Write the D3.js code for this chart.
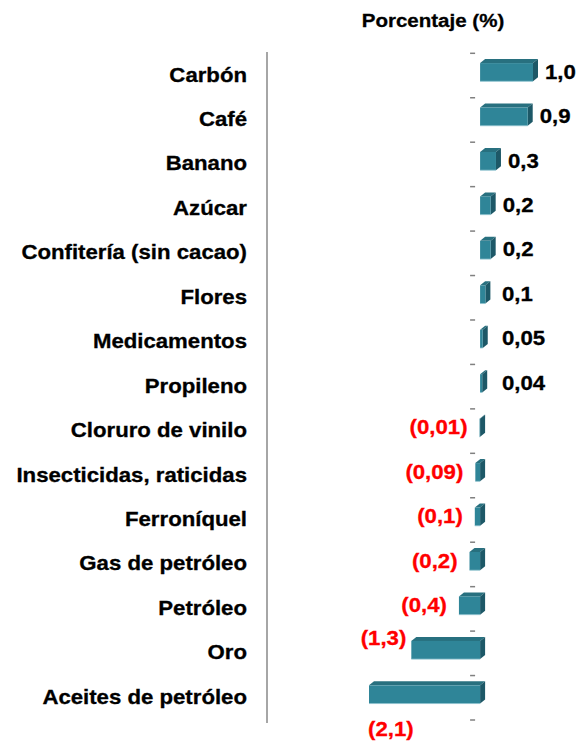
<!DOCTYPE html>
<html>
<head>
<meta charset="utf-8">
<script src="https://cdn.jsdelivr.net/npm/d3@7"></script>
<style>
  body { margin: 0; background: #fff; }
  svg text { font-family: "Liberation Sans", Arial, sans-serif; font-weight: bold; }
</style>
</head>
<body>
<svg id="vis" width="582" height="742"></svg>
<script>
// data
const CATEGORIES = ["Carbón", "Café", "Banano", "Azúcar", "Confitería (sin cacao)", "Flores",
  "Medicamentos", "Propileno ", "Cloruro de vinilo", "Insecticidas, raticidas", "Ferroníquel",
  "Gas de petróleo", "Petróleo", "Oro", "Aceites de petróleo"];
const VALUES = [1.0, 0.9, 0.3, 0.2, 0.2, 0.1, 0.05, 0.04, -0.01, -0.09, -0.1, -0.2, -0.4, -1.3, -2.1];
const VALUE_LABELS = ["1,0", "0,9", "0,3", "0,2", "0,2", "0,1", "0,05", "0,04", "(0,01)", "(0,09)",
  "(0,1)", "(0,2)", "(0,4)", "(1,3)", "(2,1)"];
const TITLE = "Porcentaje (%)";

const DEPTH = {dx: 5, dy: 4};
const COLOURS = {front: "#2f8598", top: "#28707f", side: "#1d5867"};
const STRETCH = 1.11; // text in the picture is slightly wide

var svg = d3.select("#vis");
var data = CATEGORIES.map((c, i) => ({name: c, value: VALUES[i], label: VALUE_LABELS[i]}));

var x = d3.scaleLinear().domain([-2.1, 1.0]).range([369, 533]);
var y = d3.scaleBand().domain(CATEGORIES).range([53.3, 720]).padding(0);
var bw = y.bandwidth();

function place(px, py, s) { return `translate(${px},${py}) scale(${s || STRETCH},1)`; }

// title
svg.append("text")
  .attr("transform", place(433, 27, 1.08))
  .attr("text-anchor", "middle")
  .style("font-size", "19px")
  .attr("stroke", "#000").attr("stroke-width", 0.3)
  .text(TITLE);

// left axis line
svg.append("line")
  .attr("x1", 267).attr("x2", 267)
  .attr("y1", 52).attr("y2", 723)
  .attr("stroke", "#a6a6a6").attr("stroke-width", 2);

// small ticks on the zero side, at band boundaries
var tickYs = CATEGORIES.map(c => y(c)).concat([y(CATEGORIES[CATEGORIES.length - 1]) + bw]);
svg.selectAll("line.tick").data(tickYs).enter().append("line")
  .attr("class", "tick")
  .attr("x1", x(0) - 10).attr("x2", x(0) - 5)
  .attr("y1", d => d).attr("y2", d => d)
  .attr("stroke", "#808080").attr("stroke-width", 1.5);

// category labels
svg.selectAll("text.cat").data(data).enter().append("text")
  .attr("class", "cat")
  .attr("transform", d => place(247, y(d.name) + bw / 2 + 6))
  .attr("text-anchor", "end")
  .style("font-size", "20px")
  .attr("stroke", "#000").attr("stroke-width", 0.3)
  .text(d => d.name);

// 3d bars
function frontTop(d) { return y(d.name) + bw * 0.22; }
var frontH = bw * 0.41;

var bars = svg.selectAll("g.bar").data(data).enter().append("g").attr("class", "bar");

bars.append("polygon") // top face
  .attr("fill", COLOURS.top)
  .attr("points", d => {
    let x0 = x(Math.min(0, d.value)), x1 = x(Math.max(0, d.value)), t = frontTop(d);
    return [[x0, t], [x0 + DEPTH.dx, t - DEPTH.dy], [x1 + DEPTH.dx, t - DEPTH.dy], [x1, t]].join(" ");
  });

bars.append("polygon") // side face
  .attr("fill", COLOURS.side)
  .attr("points", d => {
    let x1 = x(Math.max(0, d.value)), t = frontTop(d);
    return [[x1, t], [x1 + DEPTH.dx, t - DEPTH.dy], [x1 + DEPTH.dx, t + frontH - DEPTH.dy], [x1, t + frontH]].join(" ");
  });

bars.append("rect") // front face
  .attr("fill", COLOURS.front)
  .attr("x", d => x(Math.min(0, d.value)))
  .attr("y", d => frontTop(d))
  .attr("width", d => Math.abs(x(d.value) - x(0)))
  .attr("height", frontH);

bars.append("line") // light lower edge
  .attr("x1", d => x(Math.min(0, d.value)))
  .attr("x2", d => x(Math.max(0, d.value)))
  .attr("y1", d => frontTop(d) + frontH)
  .attr("y2", d => frontTop(d) + frontH)
  .attr("stroke", "#8fc3cf").attr("stroke-width", 0.8);

// value labels
function labelX(d) {
  if (d.value >= 0) return Math.max(x(d.value) + DEPTH.dx + 7, 502);
  if (d.value <= -2) return x(d.value) - 1;
  if (d.value <= -1) return x(d.value) - 5;
  return x(d.value) - 12;
}
function labelY(d) {
  if (d.value <= -2) return y(d.name) + bw + 16;
  if (d.value <= -1) return frontTop(d) + 4;
  return frontTop(d) + frontH / 2 + 6.5;
}

svg.selectAll("text.val").data(data).enter().append("text")
  .attr("class", "val")
  .style("font-size", "20px")
  .attr("fill", d => d.value < 0 ? "#ff0000" : "#000")
  .attr("stroke", d => d.value < 0 ? "#ff0000" : "#000").attr("stroke-width", 0.3)
  .attr("text-anchor", d => d.value >= 0 ? "start" : (d.value <= -2 ? "start" : "end"))
  .attr("transform", d => place(labelX(d), labelY(d)))
  .text(d => d.label);
</script>
</body>
</html>
